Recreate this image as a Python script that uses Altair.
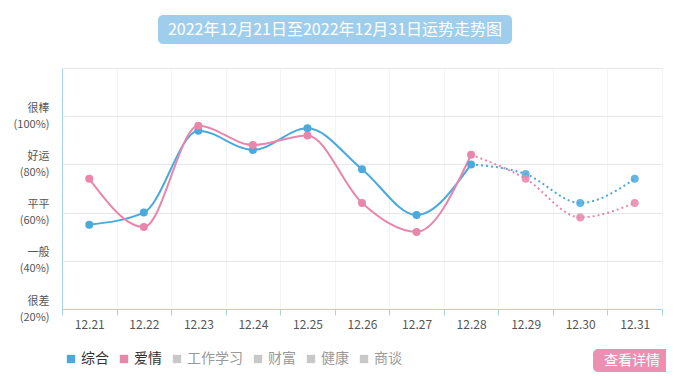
import altair as alt
import pandas as pd

dates = ["12.21", "12.22", "12.23", "12.24", "12.25", "12.26", "12.27", "12.28", "12.29", "12.30", "12.31"]
zonghe = [55, 60, 94, 86, 95, 78, 59, 80, 76, 64, 74]
aiqing = [74, 54, 96, 88, 92, 64, 52, 84, 74, 58, 64]
series_names = ["综合", "爱情", "工作学习", "财富", "健康", "商谈"]
series_colors = ["#4aa9dd", "#e886ab", "#c8c8c8", "#c8c8c8", "#c8c8c8", "#c8c8c8"]
last_actual = 7  # index of 12.28: solid up to here, dotted after

title_text = "2022年12月21日至2022年12月31日运势走势图"
button_text = "查看详情"

rows = []
for name, vals in (("综合", zonghe), ("爱情", aiqing)):
    for i, (d, v) in enumerate(zip(dates, vals)):
        rows.append({"date": d, "value": v, "series": name, "idx": i})
df = pd.DataFrame(rows)

FONT = "Noto Sans CJK SC"

x_enc = alt.X("date:N", sort=dates, title=None,
              scale=alt.Scale(paddingInner=0, paddingOuter=0),
              axis=alt.Axis(labelAngle=0, tickBand="extent", bandPosition=0,
                            domainColor="#a6d3ea", tickColor="#a6d3ea", tickSize=6,
                            labelColor="#555555", labelFontSize=12, labelFont=FONT,
                            labelPadding=4, grid=True, gridColor="#f4f4f4"))
y_label_expr = ("datum.value==100?['很棒','(100%)']:datum.value==80?['好运','(80%)']:"
                "datum.value==60?['平平','(60%)']:datum.value==40?['一般','(40%)']:"
                "datum.value==20?['很差','(20%)']:''")
y_enc = alt.Y("value:Q", title=None,
              scale=alt.Scale(domain=[20, 120], nice=False, zero=False),
              axis=alt.Axis(values=[20, 40, 60, 80, 100, 120], labelExpr=y_label_expr,
                            domainColor="#a6d3ea", ticks=False, labelPadding=13,
                            labelColor="#555555", labelFontSize=11, labelFont=FONT,
                            labelLineHeight=16, labelFlush=False, labelOffset=-8,
                            gridColor="#e6e6e6"))
color_enc = alt.Color("series:N", scale=alt.Scale(domain=series_names, range=series_colors),
                      legend=alt.Legend(orient="none", legendX=2, legendY=284, direction="horizontal",
                                        title=None, symbolType="square", symbolSize=70,
                                        symbolStrokeWidth=0, labelFontSize=14, labelFont=FONT,
                                        labelColor={"expr": "indexof(['综合','爱情'], datum.label) >= 0 ? '#333333' : '#999999'"},
                                        columnPadding=8, labelOffset=3))

base = alt.Chart(df)

solid = base.transform_filter(f"datum.idx <= {last_actual}").mark_line(
    interpolate="monotone", strokeWidth=2).encode(x=x_enc, y=y_enc, color=color_enc)
dotted = base.transform_filter(f"datum.idx >= {last_actual}").mark_line(
    interpolate="monotone", strokeWidth=2, strokeDash=[2, 3]).encode(
    x=x_enc, y=y_enc, color=alt.Color("series:N", scale=alt.Scale(domain=series_names, range=series_colors), legend=None))
points = base.mark_circle(size=64, opacity=1).encode(
    x=x_enc, y=y_enc, color=alt.Color("series:N", scale=alt.Scale(domain=series_names, range=series_colors), legend=None),
    opacity=alt.condition(f"datum.idx > {last_actual}", alt.value(0.85), alt.value(1)))

one = pd.DataFrame({"t": [title_text], "b": [button_text]})
title_box = alt.Chart(one).mark_rect(color="#9fcdec", cornerRadius=5).encode(
    x=alt.value(96), x2=alt.value(450), y=alt.value(-53), y2=alt.value(-24))
title_txt = alt.Chart(one).mark_text(color="white", fontSize=16, font=FONT, align="center", baseline="middle").encode(
    x=alt.value(273), y=alt.value(-38), text="t:N")
btn_box = alt.Chart(one).mark_rect(color="#ec8fb1", cornerRadius=5).encode(
    x=alt.value(531), x2=alt.value(609), y=alt.value(281), y2=alt.value(304))
btn_txt = alt.Chart(one).mark_text(color="white", fontSize=14, font=FONT, align="center", baseline="middle").encode(
    x=alt.value(570), y=alt.value(292.5), text="b:N")

chart = alt.layer(solid, dotted, points, title_box, title_txt, btn_box, btn_txt).properties(
    width=600, height=241,
    autosize=alt.AutoSizeParams(type="none"),
    padding={"left": 54, "top": 60, "right": 4, "bottom": 70},
).configure_view(stroke=None).configure(background="white")

chart.save("out.html", embed_options={"renderer": "svg", "actions": False})
